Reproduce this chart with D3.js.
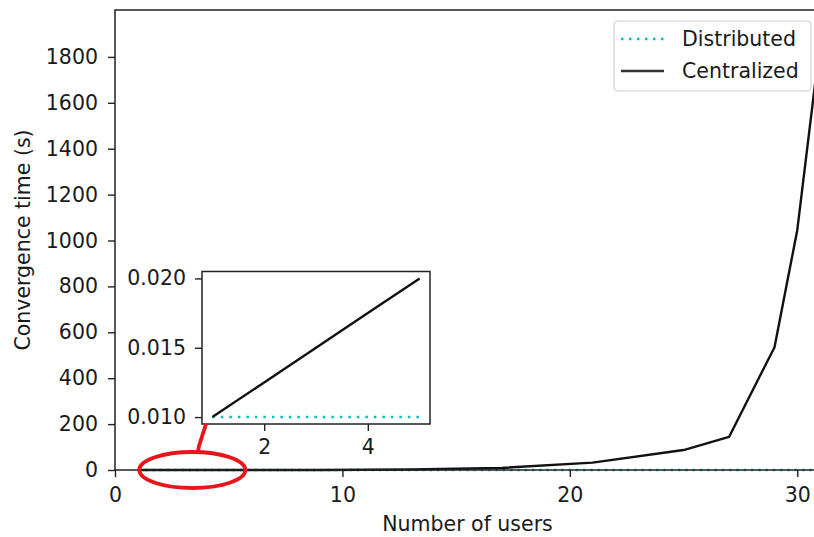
<!DOCTYPE html>
<html>
<head>
<meta charset="utf-8">
<script src="https://cdn.jsdelivr.net/npm/d3@7"></script>
<style>
  body { margin: 0; background: #fff; }
  svg { display: block; font-family: "DejaVu Sans", sans-serif; }
</style>
</head>
<body>
<div id="chart"></div>
<script>
// data
var users = [1, 5, 9, 13, 17, 21, 25, 27, 29, 30, 31];
var centralized = [0.01, 0.05, 0.3, 2, 9, 32, 87, 144, 535, 1045, 1860];
var distributed = [0.01, 0.01, 0.01, 0.01, 0.01, 0.01, 0.01, 0.01, 0.01, 0.01, 0.01];
var yTicks = [0, 200, 400, 600, 800, 1000, 1200, 1400, 1600, 1800];
var xTicks = [0, 10, 20, 30];

// zoomed inset (first users)
var insetUsers = [1, 2, 3, 4, 5];
var insetCentralized = [0.0100, 0.0125, 0.0150, 0.0175, 0.0200];
var insetDistributed = [0.0100, 0.0100, 0.0100, 0.0100, 0.0100];
var insetYTicks = [0.010, 0.015, 0.020];
var insetXTicks = [2, 4];

var seriesNames = ["Distributed", "Centralized"];

var svgWidth = 814;
var svgHeight = 537;
var fontSize = "20.5px";
var textColor = "#1a1a1a";
var cyan = "#00bfbf";

var svg = d3.select("#chart").append("svg")
  .attr("width", svgWidth)
  .attr("height", svgHeight);

// main axes area (right side is cut off like in the picture)
var plot = { left: 115, right: 820, top: 10, bottom: 470 };

var xScale = d3.scaleLinear().domain([0, 31]).range([plot.left, plot.right]);
var yScale = d3.scaleLinear().domain([0, 2000]).range([plot.bottom, plot.top + 1]);

var line = d3.line()
  .x((d) => xScale(d[0]))
  .y((d) => yScale(d[1]));

svg.append("path")
  .datum(users.map((u, i) => [u, distributed[i]]))
  .attr("d", line)
  .attr("fill", "none")
  .attr("stroke", cyan)
  .attr("stroke-width", 2.5)
  .attr("stroke-dasharray", "2.5 4.8");

svg.append("path")
  .datum(users.map((u, i) => [u, centralized[i]]))
  .attr("d", line)
  .attr("fill", "none")
  .attr("stroke", "#111")
  .attr("stroke-width", 2.4)
  .attr("stroke-linejoin", "round");

// axes
var xAxis = d3.axisBottom(xScale).tickValues(xTicks).tickFormat(d3.format("d")).tickSize(7).tickPadding(10);
var yAxis = d3.axisLeft(yScale).tickValues(yTicks).tickFormat(d3.format("d")).tickSize(7).tickPadding(10);

var gx = svg.append("g")
  .attr("transform", `translate(0, ${plot.bottom})`)
  .call(xAxis);
var gy = svg.append("g")
  .attr("transform", `translate(${plot.left}, 0)`)
  .call(yAxis);

[gx, gy].forEach(function(g) {
  g.select(".domain").remove();
  g.selectAll(".tick line").attr("stroke", "#222").attr("stroke-width", 1.4);
  g.selectAll(".tick text")
    .attr("font-size", fontSize)
    .attr("fill", textColor)
    .attr("font-family", "DejaVu Sans");
});

// spines
svg.append("path")
  .attr("d", `M${plot.left},${plot.bottom} L${plot.left},${plot.top} L${svgWidth + 10},${plot.top}`)
  .attr("fill", "none")
  .attr("stroke", "#222")
  .attr("stroke-width", 1.5);
svg.append("line")
  .attr("x1", plot.left).attr("x2", svgWidth + 10)
  .attr("y1", plot.bottom).attr("y2", plot.bottom)
  .attr("stroke", "#222")
  .attr("stroke-width", 1.5);

// axis labels
svg.append("text")
  .attr("x", (plot.left + plot.right) / 2)
  .attr("y", 531)
  .attr("text-anchor", "middle")
  .attr("font-size", fontSize)
  .attr("fill", textColor)
  .text("Number of users");

svg.append("text")
  .attr("transform", `translate(30, ${(plot.top + plot.bottom) / 2}) rotate(-90)`)
  .attr("text-anchor", "middle")
  .attr("font-size", fontSize)
  .attr("fill", textColor)
  .text("Convergence time (s)");

// legend
var legend = svg.append("g").attr("transform", "translate(614, 21)");
legend.append("rect")
  .attr("width", 197)
  .attr("height", 70)
  .attr("rx", 4)
  .attr("fill", "white")
  .attr("fill-opacity", 0.8)
  .attr("stroke", "#d0d0d0")
  .attr("stroke-width", 1.2);

seriesNames.forEach(function(name, i) {
  var y = 18 + i * 32;
  legend.append("line")
    .attr("x1", 7).attr("x2", 50)
    .attr("y1", y).attr("y2", y)
    .attr("stroke", i === 0 ? cyan : "#333")
    .attr("stroke-width", 2.5)
    .attr("stroke-dasharray", i === 0 ? "2.5 5.5" : null);
  legend.append("text")
    .attr("x", 68)
    .attr("y", y + 7)
    .attr("font-size", fontSize)
    .attr("fill", textColor)
    .text(name);
});

// inset axes
var inset = { left: 202, right: 430, top: 271.5, bottom: 424 };

var ixScale = d3.scaleLinear().domain([0.8, 5.2]).range([inset.left, inset.right]);
var iyScale = d3.scaleLinear().domain([0.0095, 0.0205]).range([inset.bottom, inset.top]);

svg.append("rect")
  .attr("x", inset.left)
  .attr("y", inset.top)
  .attr("width", inset.right - inset.left)
  .attr("height", inset.bottom - inset.top)
  .attr("fill", "white");

var insetLine = d3.line()
  .x((d) => ixScale(d[0]))
  .y((d) => iyScale(d[1]));

svg.append("path")
  .datum(insetUsers.map((u, i) => [u, insetDistributed[i]]))
  .attr("d", insetLine)
  .attr("fill", "none")
  .attr("stroke", cyan)
  .attr("stroke-width", 2.5)
  .attr("stroke-dasharray", "2.5 6");

svg.append("path")
  .datum(insetUsers.map((u, i) => [u, insetCentralized[i]]))
  .attr("d", insetLine)
  .attr("fill", "none")
  .attr("stroke", "#111")
  .attr("stroke-width", 2.4);

var ixAxis = d3.axisBottom(ixScale).tickValues(insetXTicks).tickFormat(d3.format("d")).tickSize(7).tickPadding(8);
var iyAxis = d3.axisLeft(iyScale).tickValues(insetYTicks).tickFormat(d3.format(".3f")).tickSize(7).tickPadding(9);

var gix = svg.append("g")
  .attr("transform", `translate(0, ${inset.bottom})`)
  .call(ixAxis);
var giy = svg.append("g")
  .attr("transform", `translate(${inset.left}, 0)`)
  .call(iyAxis);

[gix, giy].forEach(function(g) {
  g.select(".domain").remove();
  g.selectAll(".tick line").attr("stroke", "#222").attr("stroke-width", 1.4);
  g.selectAll(".tick text")
    .attr("font-size", fontSize)
    .attr("fill", textColor)
    .attr("font-family", "DejaVu Sans");
});

svg.append("rect")
  .attr("x", inset.left)
  .attr("y", inset.top)
  .attr("width", inset.right - inset.left)
  .attr("height", inset.bottom - inset.top)
  .attr("fill", "none")
  .attr("stroke", "#222")
  .attr("stroke-width", 1.5);

// red hand-drawn style annotation around the zoomed region
var circleX = xScale(3.4);
var circleY = yScale(0);
svg.append("ellipse")
  .attr("cx", circleX)
  .attr("cy", circleY)
  .attr("rx", 53)
  .attr("ry", 18)
  .attr("fill", "none")
  .attr("stroke", "#e8151b")
  .attr("stroke-width", 3.8);

svg.append("path")
  .attr("d", `M${inset.left + 4},${inset.bottom} L${inset.left - 3},${inset.bottom + 22} L${inset.left - 4},${circleY - 18}`)
  .attr("fill", "none")
  .attr("stroke", "#e8151b")
  .attr("stroke-width", 3.8);
</script>
</body>
</html>
